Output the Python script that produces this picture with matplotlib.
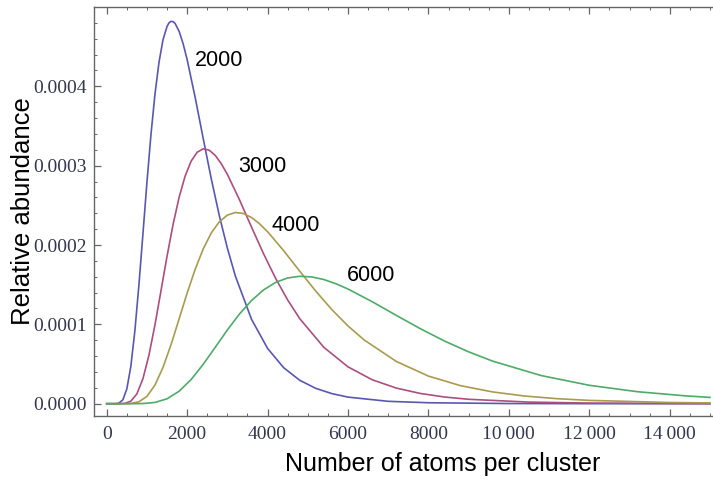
import numpy as np
import matplotlib
matplotlib.use("Agg")
import matplotlib.pyplot as plt
from matplotlib.ticker import MultipleLocator, FixedLocator

# values (number of atoms, relative abundance)
labels = ["2000", "3000", "4000", "6000"]

x_2000 = [0, 200, 300, 400, 500, 600, 700, 800, 900, 1000, 1100, 1200, 1300, 1400,
          1500, 1550, 1600, 1650, 1700, 1800, 1900, 2000, 2200, 2400, 2600, 2800, 3000, 3200,
          3600, 4000, 4400, 4800, 5200, 5600, 6000, 7000, 8000, 10000, 12000, 15000]
y_2000 = [0, 0.00003e-4, 0.0059e-4, 0.0477e-4, 0.185e-4, 0.470e-4, 0.917e-4, 1.491e-4,
          2.136e-4, 2.787e-4, 3.389e-4, 3.901e-4, 4.303e-4, 4.587e-4, 4.755e-4,
          4.801e-4, 4.819e-4, 4.815e-4, 4.793e-4, 4.694e-4, 4.537e-4, 4.337e-4, 3.859e-4, 3.341e-4,
          2.835e-4, 2.371e-4, 1.961e-4, 1.608e-4, 1.065e-4, 0.697e-4, 0.454e-4,
          0.295e-4, 0.193e-4, 0.127e-4, 0.083e-4, 0.030e-4, 0.012e-4, 0.002e-4,
          0.0004e-4, 0.0]

x_3000 = [0, 300, 450, 600, 750, 900, 1050, 1200, 1350, 1500, 1650, 1800, 1950, 2100,
          2250, 2400, 2550, 2700, 2850, 3000, 3300, 3600, 3900, 4200, 4500, 4800,
          5400, 6000, 6600, 7200, 7800, 8400, 9000, 10500, 12000, 15000]
y_3000 = [0, 0.00002e-4, 0.0039e-4, 0.0318e-4, 0.1233e-4, 0.3135e-4, 0.611e-4, 0.994e-4,
          1.424e-4, 1.858e-4, 2.259e-4, 2.601e-4, 2.869e-4, 3.058e-4, 3.170e-4,
          3.213e-4, 3.195e-4, 3.129e-4, 3.024e-4, 2.891e-4, 2.572e-4, 2.227e-4,
          1.890e-4, 1.580e-4, 1.307e-4, 1.072e-4, 0.710e-4, 0.4645e-4, 0.302e-4,
          0.197e-4, 0.129e-4, 0.0843e-4, 0.0556e-4, 0.0202e-4, 0.0077e-4, 0.0013e-4]

x_4000 = [0, 400, 600, 800, 1000, 1200, 1400, 1600, 1800, 2000, 2200, 2400, 2600, 2800,
          3000, 3200, 3400, 3600, 3800, 4000, 4400, 4800, 5200, 5600, 6000, 6400,
          7200, 8000, 8800, 9600, 10400, 11200, 12000, 14000, 15000]
y_4000 = [0, 0.00002e-4, 0.0029e-4, 0.0239e-4, 0.0925e-4, 0.235e-4, 0.458e-4, 0.745e-4,
          1.068e-4, 1.394e-4, 1.694e-4, 1.951e-4, 2.152e-4, 2.293e-4, 2.377e-4,
          2.410e-4, 2.397e-4, 2.347e-4, 2.268e-4, 2.168e-4, 1.929e-4, 1.670e-4,
          1.418e-4, 1.185e-4, 0.980e-4, 0.804e-4, 0.533e-4, 0.348e-4, 0.227e-4,
          0.148e-4, 0.0964e-4, 0.0633e-4, 0.0417e-4, 0.0152e-4, 0.0095e-4]

x_6000 = [0, 600, 900, 1200, 1500, 1800, 2100, 2400, 2700, 3000, 3300, 3600, 3900, 4200,
          4500, 4800, 5100, 5400, 5700, 6000, 6600, 7200, 7800, 8400, 9000, 9600,
          10800, 12000, 13200, 14400, 15000]
y_6000 = [0, 0.00002e-4, 0.002e-4, 0.0159e-4, 0.0617e-4, 0.157e-4, 0.3055e-4, 0.497e-4,
          0.712e-4, 0.929e-4, 1.130e-4, 1.300e-4, 1.434e-4, 1.529e-4, 1.585e-4,
          1.606e-4, 1.598e-4, 1.565e-4, 1.512e-4, 1.4455e-4, 1.286e-4, 1.1135e-4,
          0.945e-4, 0.790e-4, 0.6535e-4, 0.536e-4, 0.355e-4, 0.232e-4, 0.151e-4,
          0.0985e-4, 0.0795e-4]

xticks = [0, 2000, 4000, 6000, 8000, 10000, 12000, 14000]
xtick_labels = ["0", "2000", "4000", "6000", "8000", "10\u2009000", "12\u2009000", "14\u2009000"]
yticks = [0.0, 0.0001, 0.0002, 0.0003, 0.0004]
ytick_labels = ["0.0000", "0.0001", "0.0002", "0.0003", "0.0004"]

colors = ["#5858b2", "#ac4e80", "#a99b4e", "#4eab68"]
series = [(x_2000, y_2000), (x_3000, y_3000), (x_4000, y_4000), (x_6000, y_6000)]

fig = plt.figure(figsize=(7.13, 4.83), dpi=100)
ax = fig.add_axes([94 / 713, 1 - 416 / 483, 1 - 94 / 713, (416 - 7) / 483])

for (xs, ys), c in zip(series, colors):
    ax.plot(xs, ys, color=c, lw=1.2, solid_joinstyle="round")

# curve labels
label_pos = [(2797, 4.33e-4), (3861, 2.99e-4), (4707, 2.24e-4), (6583, 1.61e-4)]
for lab, (lx, ly) in zip(labels, label_pos):
    ax.text(lx, ly, lab, fontsize=15.5, family="Liberation Sans", ha="center", va="center")

ax.set_xlim(-316, 15076)
ax.set_ylim(-0.0000155, 0.0005)

ax.xaxis.set_major_locator(FixedLocator(xticks))
ax.set_xticklabels(xtick_labels)
ax.xaxis.set_minor_locator(MultipleLocator(500))
ax.yaxis.set_major_locator(FixedLocator(yticks))
ax.set_yticklabels(ytick_labels)
ax.yaxis.set_minor_locator(MultipleLocator(0.00002))

frame = "#666666"
for s in ["left", "bottom", "top"]:
    ax.spines[s].set_color(frame)
    ax.spines[s].set_linewidth(1.0)
ax.spines["right"].set_visible(False)

ax.tick_params(which="both", direction="in", color=frame, top=True, right=False)
ax.tick_params(which="major", length=5, width=0.9)
ax.tick_params(which="minor", length=2.5, width=0.7)
ax.tick_params(axis="x", pad=7)
ax.tick_params(axis="y", pad=5)
for t in ax.get_xticklabels() + ax.get_yticklabels():
    t.set_family("Liberation Serif")
    t.set_fontsize(14)
    t.set_color("#33364f")

ax.set_xlabel("Number of atoms per cluster", fontsize=18, family="Liberation Sans", labelpad=7)
ax.xaxis.label.set_x(0.563)
ax.set_ylabel("Relative abundance", fontsize=18.5, family="Liberation Sans", labelpad=-1)

fig.savefig("out.png", dpi=100)
